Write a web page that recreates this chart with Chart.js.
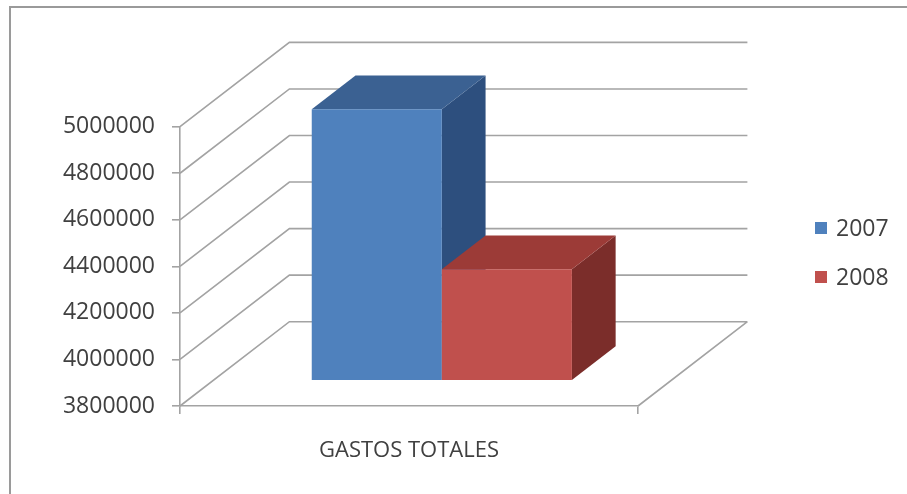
<!DOCTYPE html>
<html>
<head>
<meta charset="utf-8">
<script src="https://cdn.jsdelivr.net/npm/chart.js@4.4.1/dist/chart.umd.min.js"></script>
<style>
  html, body { margin: 0; padding: 0; background: #ffffff; }
  #wrap { position: relative; width: 907px; height: 494px; }
  canvas { display: block; }
</style>
</head>
<body>
<div id="wrap"><canvas id="c" width="907" height="494"></canvas></div>
<script>
// ---- data ----
const categories = ['GASTOS TOTALES'];
const seriesLabels = ['2007', '2008'];
const gastos2007 = [4966000];
const gastos2008 = [4279000];
const axisMin = 3800000;
const axisMax = 5000000;
const axisStep = 200000;

// ---- style ----
const palette = {
  '2007': { front: '#4f81bd', top: '#3b6192', side: '#2d4f7e' },
  '2008': { front: '#c0504d', top: '#9c3b37', side: '#7b2d2a' }
};
const DEPTH = { x: 109.4, y: -84.3 };   // floor depth vector in px
const BAR_FRONT = 0.30;                 // bar front face position along the depth
const BAR_DEPTH = 0.40;                 // bar thickness along the depth
const GRID = '#a3a3a3';
const TEXT = '#404040';
const FONT = 'Open Sans';

// Walls, 3D bar faces, frame and legend
const box3d = {
  id: 'box3d',
  beforeDraw(chart) {
    const ctx = chart.ctx;
    ctx.save();
    ctx.strokeStyle = '#9a9a9a';
    ctx.lineWidth = 2;
    ctx.beginPath();
    ctx.moveTo(10, chart.height);
    ctx.lineTo(10, 7);
    ctx.lineTo(chart.width, 7);
    ctx.stroke();
    ctx.restore();
  },
  beforeDatasetsDraw(chart) {
    const { ctx, chartArea: a, scales: { y } } = chart;
    ctx.save();
    ctx.strokeStyle = GRID;
    ctx.lineWidth = 1.6;
    ctx.beginPath();
    y.ticks.forEach(t => {
      const py = y.getPixelForValue(t.value);
      ctx.moveTo(a.left, py);
      ctx.lineTo(a.left + DEPTH.x, py + DEPTH.y);
      ctx.lineTo(a.right + DEPTH.x, py + DEPTH.y);
    });
    const pb = y.getPixelForValue(axisMin);
    ctx.moveTo(a.right, pb);
    ctx.lineTo(a.right + DEPTH.x, pb + DEPTH.y);
    ctx.stroke();
    ctx.restore();
  },
  // the boxes are painted below, left to right, so skip the default pass
  beforeDatasetDraw() {
    return false;
  },
  afterDatasetsDraw(chart) {
    const ctx = chart.ctx;
    const dx = DEPTH.x * BAR_DEPTH, dy = DEPTH.y * BAR_DEPTH;
    ctx.save();
    ctx.translate(DEPTH.x * BAR_FRONT, DEPTH.y * BAR_FRONT);
    chart.data.datasets.forEach((ds, i) => {
      const col = palette[ds.label];
      chart.getDatasetMeta(i).data.forEach(bar => {
        const p = bar.getProps(['x', 'y', 'base', 'width'], true);
        const x0 = p.x - p.width / 2, x1 = p.x + p.width / 2;
        // right side face
        ctx.fillStyle = col.side;
        ctx.beginPath();
        ctx.moveTo(x1, p.y);
        ctx.lineTo(x1 + dx, p.y + dy);
        ctx.lineTo(x1 + dx, p.base + dy);
        ctx.lineTo(x1, p.base);
        ctx.closePath();
        ctx.fill();
        // top face
        ctx.fillStyle = col.top;
        ctx.beginPath();
        ctx.moveTo(x0, p.y);
        ctx.lineTo(x0 + dx, p.y + dy);
        ctx.lineTo(x1 + dx, p.y + dy);
        ctx.lineTo(x1, p.y);
        ctx.closePath();
        ctx.fill();
        // front face
        bar.draw(ctx);
      });
    });
    ctx.restore();
  },
  afterDraw(chart) {
    const ctx = chart.ctx;
    ctx.save();
    ctx.font = '23px "' + FONT + '"';
    ctx.textBaseline = 'middle';
    chart.data.datasets.forEach((ds, i) => {
      const cy = 228 + i * 49;
      ctx.fillStyle = palette[ds.label].front;
      ctx.fillRect(815, cy - 6, 12, 12);
      ctx.fillStyle = TEXT;
      ctx.fillText(ds.label, 836, cy + 1);
    });
    ctx.restore();
  }
};

new Chart(document.getElementById('c'), {
  type: 'bar',
  data: {
    labels: categories,
    datasets: [
      { label: seriesLabels[0], data: gastos2007, backgroundColor: palette['2007'].front,
        borderWidth: 0, base: axisMin, categoryPercentage: 0.568, barPercentage: 1.0 },
      { label: seriesLabels[1], data: gastos2008, backgroundColor: palette['2008'].front,
        borderWidth: 0, base: axisMin, categoryPercentage: 0.568, barPercentage: 1.0 }
    ]
  },
  options: {
    responsive: false,
    animation: false,
    devicePixelRatio: 1,
    layout: { padding: { left: 0, top: 126.7, right: 269, bottom: 0 } },
    plugins: { legend: { display: false }, tooltip: { enabled: false } },
    scales: {
      x: {
        grid: { drawOnChartArea: false, tickLength: 8, color: GRID, lineWidth: 1.6 },
        border: { color: GRID, width: 1.6 },
        ticks: { font: { family: FONT, size: 22 }, color: TEXT, padding: 24 },
        afterFit(s) { s.height = 88; }
      },
      y: {
        min: axisMin,
        max: axisMax,
        grid: { drawOnChartArea: false, tickLength: 8, color: GRID, lineWidth: 1.6 },
        border: { color: GRID, width: 1.6 },
        ticks: { stepSize: axisStep, font: { family: FONT, size: 23 }, color: TEXT, padding: 17,
                 callback: v => String(v) },
        afterFit(s) { s.width = 180; }
      }
    }
  },
  plugins: [box3d]
});
</script>
</body>
</html>
